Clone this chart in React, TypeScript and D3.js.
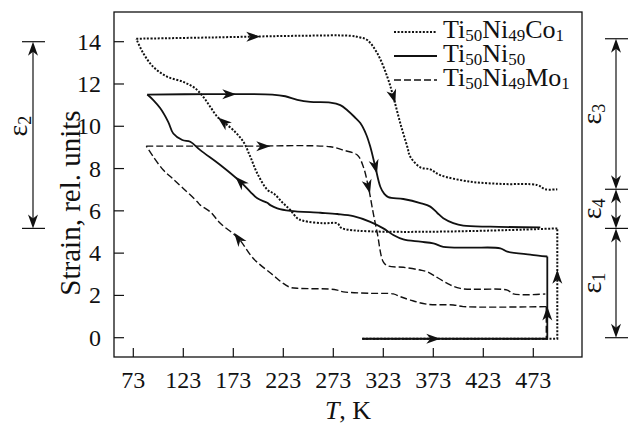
import React from "react";
import * as d3 from "d3";

// temperature T (K) and strain (rel. units)
const xTicks = [73, 123, 173, 223, 273, 323, 373, 423, 473];
const yTicks = [0, 2, 4, 6, 8, 10, 12, 14];

type Pt = [number, number];

// Ti50Ni50 (solid)
const niBase: Pt[] = [[302, -0.05], [487, -0.05], [487, 3.84]];
const niCool: Pt[] = [
  [487, 3.84], [478, 3.88], [470, 3.93], [447, 4.07], [440, 4.23], [410, 4.26], [383, 4.3],
  [373, 4.46], [360, 4.54], [343, 4.65], [333, 4.86], [323, 5.17], [310, 5.48], [293, 5.75],
  [277, 5.85], [260, 5.91], [230, 6.0], [217, 6.12], [210, 6.27], [207, 6.38], [197, 6.59],
  [190, 6.9], [180, 7.38], [160, 8.17], [140, 8.87], [130, 9.27], [122, 9.35], [113, 9.66],
  [108, 10.2], [100, 10.85], [93, 11.24], [87, 11.5],
];
const niHeat: Pt[] = [
  [87, 11.5], [150, 11.52], [212, 11.5], [225, 11.42], [237, 11.25], [250, 11.15], [270, 11.12],
  [280, 11.0], [287, 10.76], [294, 10.45], [300, 10.15], [306, 9.6], [310, 9.03], [315, 8.08],
  [320, 7.14], [324, 6.8], [328, 6.65], [343, 6.56], [360, 6.37], [370, 6.2], [377, 5.9],
  [383, 5.65], [393, 5.42], [403, 5.3], [430, 5.25], [480, 5.22],
];

// Ti50Ni49Mo1 (dashed)
const moBase: Pt[] = [[302, -0.05], [486, -0.05], [486, 1.47]];
const moCool: Pt[] = [
  [486, 1.47], [403, 1.47], [393, 1.55], [367, 1.58], [350, 1.78], [340, 1.94], [333, 2.07],
  [310, 2.1], [283, 2.17], [277, 2.25], [270, 2.3], [240, 2.33], [230, 2.38], [222, 2.6],
  [213, 2.95], [193, 3.75], [178, 4.7], [160, 5.41], [150, 5.95], [140, 6.27], [137, 6.43],
  [123, 7.06], [112, 7.54], [103, 7.93], [93, 8.56], [86, 9.06],
];
const moHeat: Pt[] = [
  [86, 9.06], [180, 9.06], [270, 9.03], [283, 8.87], [297, 8.64], [303, 8.09], [308, 7.14],
  [313, 5.88], [317, 4.94], [323, 3.59], [328, 3.39], [343, 3.33], [360, 3.2], [367, 3.12],
  [373, 2.96], [387, 2.57], [400, 2.33], [447, 2.25], [453, 2.07], [485, 2.07],
];

// Ti50Ni49Co1 (dotted)
const coBase: Pt[] = [[302, -0.05], [497, -0.05], [497, 5.17]];
const coCool: Pt[] = [
  [497, 5.17], [282, 5.17], [277, 5.41], [263, 5.41], [243, 5.53], [237, 5.65], [230, 6.04],
  [222, 6.4], [214, 6.8], [207, 7.0], [197, 7.77], [190, 8.56], [183, 9.27], [173, 9.82],
  [163, 10.21], [157, 10.45], [150, 10.92], [143, 11.39], [135, 11.79], [123, 12.1],
  [107, 12.34], [93, 12.81], [83, 13.45], [76, 14.14],
];
const coHeat: Pt[] = [
  [76, 14.14], [150, 14.2], [240, 14.28], [290, 14.28], [300, 14.2], [307, 14.08], [317, 13.45],
  [327, 12.34], [333, 11.4], [340, 10.14], [347, 9.03], [350, 8.56], [360, 8.06], [370, 7.96],
  [380, 7.69], [410, 7.38], [443, 7.27], [477, 7.22], [485, 7.02], [497, 7.02],
];

// arrow marks: leg + approximate spot
const arrows: { leg: Pt[]; at: Pt }[] = [
  { leg: coHeat, at: [193, 14.23] },
  { leg: niHeat, at: [169, 11.5] },
  { leg: moHeat, at: [203, 9.06] },
  { leg: coHeat, at: [333, 11.4] },
  { leg: niHeat, at: [315, 8.08] },
  { leg: moHeat, at: [308, 7.14] },
  { leg: niCool, at: [180, 7.38] },
  { leg: moCool, at: [178, 4.7] },
  { leg: coCool, at: [163, 10.21] },
  { leg: niBase, at: [373, -0.05] },
  { leg: niBase, at: [487, 1.15] },
  { leg: coBase, at: [497, 2.88] },
];

// strain levels marked with the eps brackets
const leftEps = [14.0, 5.17];
const rightEps = [14.14, 7.02, 5.17, 0];
const rightEpsNames = ["3", "4", "1"];

const legendItems = [
  { parts: ["Ti", "50", "Ni", "49", "Co", "1"], dash: "2 1.6", w: 2 },
  { parts: ["Ti", "50", "Ni", "50"], dash: "none", w: 1.8 },
  { parts: ["Ti", "50", "Ni", "49", "Mo", "1"], dash: "7 3", w: 1.4 },
];

const W = 628, H = 426;
const font = "'Liberation Serif', 'Times New Roman', serif";

const x = d3.scaleLinear().domain([73, 473]).range([133.3, 533.3]);
const y = d3.scaleLinear().domain([0, 14]).range([337.7, 41.7]);

const smooth = d3.line<Pt>().x(d => x(d[0])).y(d => y(d[1])).curve(d3.curveCatmullRom.alpha(0.5));
const straight = d3.line<Pt>().x(d => x(d[0])).y(d => y(d[1]));

function arrowOn(pts: Pt[], target: Pt) {
  const P = pts.map(([t, s]) => [x(t), y(s)]);
  const tx = x(target[0]), ty = y(target[1]);
  let best = { d: Infinity, px: 0, py: 0, ang: 0 };
  for (let i = 0; i < P.length - 1; i++) {
    const [ax, ay] = P[i], [bx, by] = P[i + 1];
    const dx = bx - ax, dy = by - ay;
    const L2 = dx * dx + dy * dy;
    if (!L2) continue;
    let u = ((tx - ax) * dx + (ty - ay) * dy) / L2;
    u = Math.max(0, Math.min(1, u));
    const px = ax + u * dx, py = ay + u * dy;
    const d = (px - tx) ** 2 + (py - ty) ** 2;
    if (d < best.d) best = { d, px, py, ang: Math.atan2(dy, dx) };
  }
  return best;
}

const HEAD = "M0,0 L-14,-5 L-10,0 L-14,5 Z";

function Head({ cx, cy, ang }: { cx: number; cy: number; ang: number }) {
  return <path d={HEAD} transform={`translate(${cx},${cy}) rotate(${(ang * 180) / Math.PI})`} fill="#111" />;
}

function Sub({ parts, size = 26, sub = 17 }: { parts: string[]; size?: number; sub?: number }) {
  return (
    <>
      {parts.map((p, i) =>
        i % 2 === 0 ? (
          <tspan key={i} fontSize={size} dy={i === 0 ? 0 : -3}>{p}</tspan>
        ) : (
          <tspan key={i} fontSize={sub} dy={3}>{p}</tspan>
        )
      )}
    </>
  );
}

function Bracket({ x0, levels, names, labelX, labelY }: { x0: number; levels: number[]; names: string[]; labelX: number; labelY?: number[] }) {
  const ys = levels.map(l => y(l));
  return (
    <g>
      {ys.map((yy, i) => (
        <line key={"b" + i} x1={x0 - 11} x2={x0 + 12} y1={yy} y2={yy} stroke="#111" strokeWidth={1.2} />
      ))}
      {ys.slice(0, -1).map((y0, i) => {
        const y1 = ys[i + 1];
        const mid = labelY ? labelY[i] : (y0 + y1) / 2;
        return (
          <g key={"s" + i}>
            <line x1={x0} x2={x0} y1={y0 + 4} y2={y1 - 4} stroke="#111" strokeWidth={1.2} />
            <Head cx={x0} cy={y0} ang={-Math.PI / 2} />
            <Head cx={x0} cy={y1} ang={Math.PI / 2} />
            <text transform={`translate(${labelX},${mid}) rotate(-90)`} textAnchor="middle" fontFamily={font} fill="#111">
              <tspan fontSize={28}>ε</tspan>
              <tspan fontSize={18} dy={4}>{names[i]}</tspan>
            </text>
          </g>
        );
      })}
    </g>
  );
}

export default function App() {
  const frame = { l: 114, t: 12, r: 582, b: 357 };
  const solid = { stroke: "#111", strokeWidth: 1.8, fill: "none" };
  const dashed = { stroke: "#111", strokeWidth: 1.4, fill: "none", strokeDasharray: "7 3" };
  const dotted = { stroke: "#111", strokeWidth: 2, fill: "none", strokeDasharray: "2 1.6" };

  return (
    <svg width={W} height={H} style={{ position: "absolute", left: 0, top: 0, background: "#fff" }}>
      <rect x={frame.l} y={frame.t} width={frame.r - frame.l} height={frame.b - frame.t} fill="none" stroke="#111" strokeWidth={1.3} />

      {xTicks.map(t => (
        <g key={"x" + t}>
          <line x1={x(t)} x2={x(t)} y1={frame.b} y2={frame.b - 9} stroke="#111" strokeWidth={1.2} />
          <text x={x(t)} y={388} textAnchor="middle" fontFamily={font} fontSize={24} fill="#111">{t}</text>
        </g>
      ))}
      {yTicks.map(s => (
        <g key={"y" + s}>
          <line x1={frame.l} x2={frame.l + 10} y1={y(s)} y2={y(s)} stroke="#111" strokeWidth={1.2} />
          <text x={101} y={y(s) + 8} textAnchor="end" fontFamily={font} fontSize={24} fill="#111">{s}</text>
        </g>
      ))}

      <text transform="translate(80,203) rotate(-90)" textAnchor="middle" fontFamily={font} fontSize={29} fill="#111">
        Strain, rel. units
      </text>
      <text x={348} y={419} textAnchor="middle" fontFamily={font} fontSize={26} fill="#111">
        <tspan fontStyle="italic">T</tspan>, K
      </text>

      {/* curves */}
      <path d={straight(moBase) || ""} {...dashed} />
      <path d={straight(coBase) || ""} {...dotted} />
      <path d={straight(niBase) || ""} {...solid} />
      <path d={smooth(niCool) || ""} {...solid} />
      <path d={smooth(niHeat) || ""} {...solid} />
      <path d={smooth(moCool) || ""} {...dashed} />
      <path d={smooth(moHeat) || ""} {...dashed} />
      <path d={smooth(coCool) || ""} {...dotted} />
      <path d={smooth(coHeat) || ""} {...dotted} />

      {arrows.map((a, i) => {
        const b = arrowOn(a.leg, a.at);
        return <Head key={"a" + i} cx={b.px + Math.cos(b.ang) * 7} cy={b.py + Math.sin(b.ang) * 7} ang={b.ang} />;
      })}

      {/* legend */}
      {legendItems.map((it, i) => {
        const base = 38 + i * 24;
        return (
          <g key={"l" + i}>
            <line x1={394} x2={437} y1={base - 6} y2={base - 6} stroke="#111" strokeWidth={it.w} strokeDasharray={it.dash} />
            <text x={443} y={base} fontFamily={font} fill="#111">
              <Sub parts={it.parts} />
            </text>
          </g>
        );
      })}

      <Bracket x0={33} levels={leftEps} names={["2"]} labelX={27} labelY={[126]} />
      <Bracket x0={616} levels={rightEps} names={rightEpsNames} labelX={601} />
    </svg>
  );
}
